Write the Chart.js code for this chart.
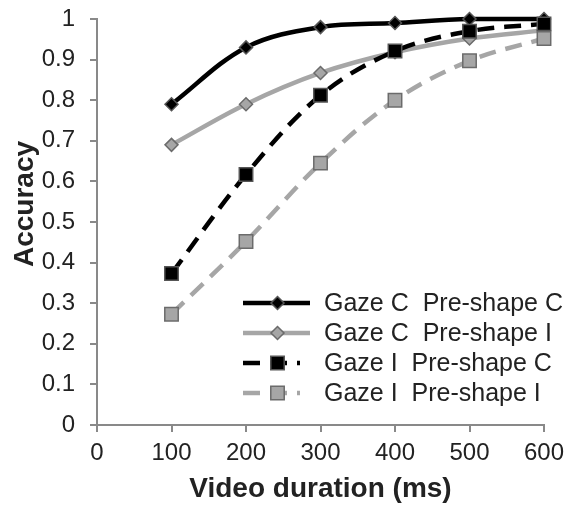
<!DOCTYPE html>
<html>
<head>
<meta charset="utf-8">
<script src="https://cdn.jsdelivr.net/npm/chart.js@4"></script>
<style>
  html, body { margin: 0; padding: 0; background: #fff; }
  #wrap { width: 569px; height: 510px; }
</style>
</head>
<body>
<div id="wrap"><canvas id="accChart" width="569" height="510"></canvas></div>
<script>
// data
let durations = [100, 200, 300, 400, 500, 600];
let gazeCPreC = [0.79, 0.93, 0.98, 0.99, 1.0, 1.0];
let gazeCPreI = [0.69, 0.79, 0.867, 0.918, 0.952, 0.972];
let gazeIPreC = [0.373, 0.617, 0.812, 0.921, 0.97, 0.988];
let gazeIPreI = [0.273, 0.452, 0.645, 0.80, 0.897, 0.952];
let seriesNames = ["Gaze C  Pre-shape C", "Gaze C  Pre-shape I", "Gaze I  Pre-shape C", "Gaze I  Pre-shape I"];
let xTickLabels = ["0", "100", "200", "300", "400", "500", "600"];
let yTickLabels = ["0", "0.1", "0.2", "0.3", "0.4", "0.5", "0.6", "0.7", "0.8", "0.9", "1"];

const BLACK = "#000000";
const GREY = "#a6a6a6";
const AXIS = "#898989";
const FONT = "'Liberation Sans', Arial, sans-serif";

function toPoints(vals) {
    return durations.map((d, i) => ({ x: d, y: vals[i] }));
}

function makeSet(label, vals, color, edge, shape, radius, dash, order) {
    return {
        label: label,
        data: toPoints(vals),
        borderColor: color,
        borderWidth: 4.5,
        borderDash: dash,
        borderCapStyle: "butt",
        tension: 0.35,
        pointStyle: shape,
        pointRadius: radius,
        pointHoverRadius: radius,
        pointBackgroundColor: color,
        pointBorderColor: edge,
        pointBorderWidth: 1.5,
        clip: false,
        order: order
    };
}

// draw one legend marker
function drawMarker(ctx, shape, x, y, r, fill, edge) {
    ctx.beginPath();
    if (shape === "rectRot") {
        ctx.moveTo(x, y - r);
        ctx.lineTo(x + r, y);
        ctx.lineTo(x, y + r);
        ctx.lineTo(x - r, y);
        ctx.closePath();
    } else {
        let s = r * Math.SQRT1_2;
        ctx.rect(x - s, y - s, 2 * s, 2 * s);
    }
    ctx.fillStyle = fill;
    ctx.fill();
    ctx.lineWidth = 1.5;
    ctx.strokeStyle = edge;
    ctx.stroke();
}

// legend inside the plot, lower right
const legendBox = {
    id: "legendBox",
    afterDraw(c) {
        let ctx = c.ctx;
        let x0 = 243, x1 = 310, tx = 324, y0 = 303, step = 30;
        c.data.datasets.forEach((ds, i) => {
            let y = y0 + i * step;
            ctx.save();
            ctx.strokeStyle = ds.borderColor;
            ctx.lineWidth = ds.borderWidth;
            ctx.setLineDash(ds.borderDash || []);
            ctx.beginPath();
            ctx.moveTo(x0, y);
            ctx.lineTo(ds.borderDash.length ? 300 : x1, y);
            ctx.stroke();
            ctx.setLineDash([]);
            drawMarker(ctx, ds.pointStyle, (x0 + x1) / 2 + 1, y, ds.pointRadius, ds.pointBackgroundColor, ds.pointBorderColor);
            ctx.fillStyle = "#222";
            ctx.font = "25px " + FONT;
            ctx.textBaseline = "middle";
            ctx.textAlign = "left";
            ctx.fillText(ds.label, tx, y + 1);
            ctx.restore();
        });
    }
};

// rotated y title, a little above the axis middle like the original
const yTitle = {
    id: "yTitle",
    afterDraw(c) {
        let ctx = c.ctx;
        ctx.save();
        ctx.translate(33, 204);
        ctx.rotate(-Math.PI / 2);
        ctx.font = "bold 28px " + FONT;
        ctx.fillStyle = "#222";
        ctx.textAlign = "center";
        ctx.textBaseline = "alphabetic";
        ctx.fillText("Accuracy", 0, 0);
        ctx.restore();
    }
};

chart = new Chart(document.getElementById("accChart"), {
    type: "line",
    data: {
        datasets: [
            makeSet(seriesNames[0], gazeCPreC, BLACK, "#555", "rectRot", 6.5, [], 4),
            makeSet(seriesNames[1], gazeCPreI, GREY, "#6b6b6b", "rectRot", 6.5, [], 3),
            makeSet(seriesNames[2], gazeIPreC, BLACK, "#555", "rect", 9.5, [17, 10], 2),
            makeSet(seriesNames[3], gazeIPreI, GREY, "#6b6b6b", "rect", 9.5, [17, 10], 1)
        ]
    },
    options: {
        responsive: false,
        animation: false,
        layout: { padding: { top: 19, right: 25, left: 0, bottom: 0 } },
        plugins: {
            legend: { display: false },
            tooltip: { enabled: false }
        },
        scales: {
            x: {
                type: "linear",
                min: 0,
                max: 600,
                afterFit: (s) => {
                    s.height = 85;
                    s.paddingLeft = 0;
                    s.paddingRight = 0;
                },
                afterBuildTicks: (s) => { s.ticks = xTickLabels.map((t) => ({ value: Number(t) })); },
                ticks: {
                    font: { size: 24, family: FONT },
                    color: "#222",
                    padding: 7,
                    maxRotation: 0,
                    callback: (v, i) => xTickLabels[i]
                },
                grid: { drawOnChartArea: false, drawTicks: true, tickLength: 7, color: AXIS, lineWidth: 2 },
                border: { color: AXIS, width: 2 },
                title: {
                    display: true,
                    text: "Video duration (ms)",
                    font: { size: 28, weight: "bold", family: FONT },
                    color: "#222",
                    padding: { top: 0, bottom: 4 }
                }
            },
            y: {
                min: 0,
                max: 1,
                afterFit: (s) => {
                    s.width = 97;
                    s.paddingTop = 0;
                    s.paddingBottom = 0;
                },
                afterBuildTicks: (s) => { s.ticks = yTickLabels.map((t) => ({ value: Number(t) })); },
                ticks: {
                    font: { size: 24, family: FONT },
                    color: "#222",
                    padding: 15,
                    callback: (v, i) => yTickLabels[i]
                },
                grid: { drawOnChartArea: false, drawTicks: true, tickLength: 7, color: AXIS, lineWidth: 2 },
                border: { color: AXIS, width: 2 }
            }
        }
    },
    plugins: [legendBox, yTitle]
});
</script>
</body>
</html>
